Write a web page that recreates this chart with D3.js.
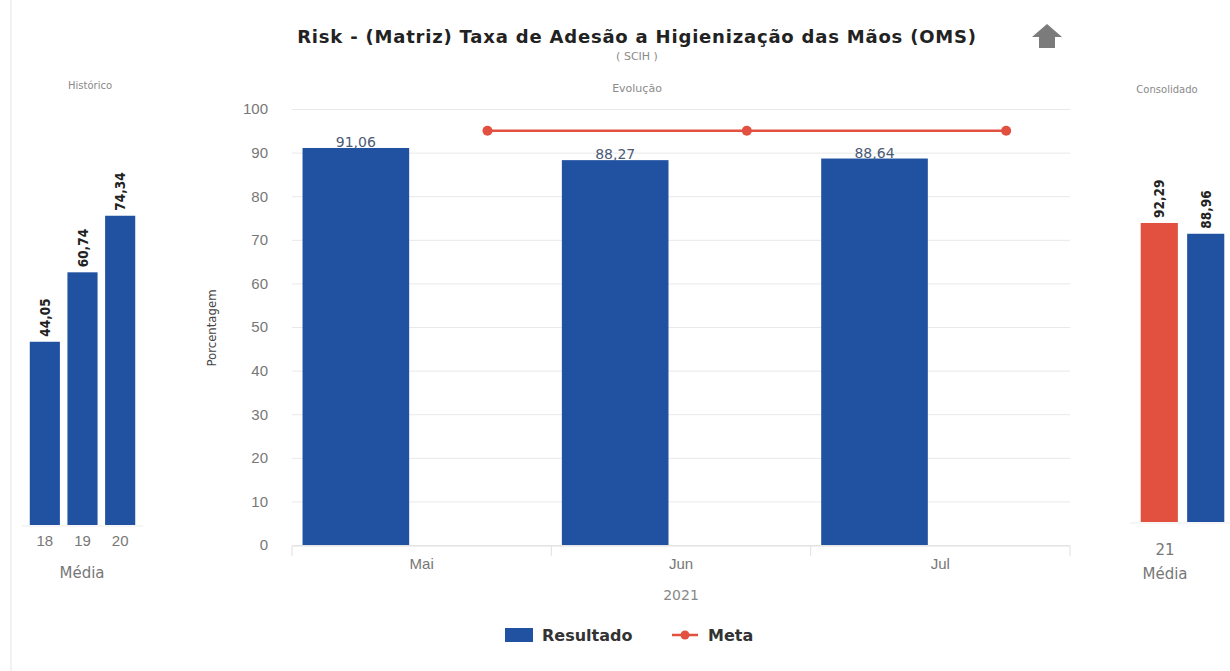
<!DOCTYPE html>
<html>
<head>
<meta charset="utf-8">
<script src="https://cdn.jsdelivr.net/npm/d3@7"></script>
<style>
  body { margin: 0; background: #fff; }
  svg { display: block; font-family: "DejaVu Sans", sans-serif; }
  .grid line { stroke: #e8e8e8; }
  .grid path { display: none; }
  .ytick text { fill: #777; font-size: 15px; }
  .ytick path, .ytick line { display: none; }
  .xlab text { fill: #777; font-size: 15px; }
  .xlab path, .xlab line { display: none; }
  .small { fill: #8a8a8a; font-size: 11px; }
  .rot { font-family: "DejaVu Sans Condensed", "DejaVu Sans", sans-serif; font-stretch: condensed; font-weight: bold; font-size: 13.5px; fill: #222; }
</style>
</head>
<body>
<svg id="chart" width="1230" height="671"></svg>
<script>
// main chart data
const months = ['Mai', 'Jun', 'Jul'];
const resultado = [91.06, 88.27, 88.64];
const meta = [95, 95, 95];
const seriesNames = ['Resultado', 'Meta'];

// side panels
const histYears = ['18', '19', '20'];
const histValues = [44.05, 60.74, 74.34];
const consYear = '21';
const consSeries = ['Meta', 'Resultado'];
const consValues = [92.29, 88.96];

const blue = '#2151a1';
const red = '#e2503f';

const br = d3.formatLocale({ decimal: ',', thousands: '.', grouping: [3], currency: ['R$', ''] });
const fmt = br.format('.2f');

const svg = d3.select('#chart');

// page border on the left
svg.append('line')
    .attr('x1', 11).attr('x2', 11).attr('y1', 0).attr('y2', 671)
    .attr('stroke', '#e4e4e4');

// title block
svg.append('text')
    .attr('x', 637).attr('y', 43)
    .attr('text-anchor', 'middle')
    .style('font-weight', 'bold').style('font-size', '18px').style('fill', '#222')
    .style('letter-spacing', '0.8px')
    .text('Risk - (Matriz) Taxa de Adesão a Higienização das Mãos (OMS)');

svg.append('text').attr('class', 'small')
    .attr('x', 637).attr('y', 60).attr('text-anchor', 'middle')
    .text('( SCIH )');

// gray arrow icon
svg.append('path')
    .attr('d', 'M1047,24 L1062,37 L1055,37 L1055,48 L1039,48 L1039,37 L1032,37 Z')
    .attr('fill', '#7b7b7b');

// ---------- main chart ----------
const x = d3.scaleBand().domain(months).range([292, 1070]).padding(0);
const xs = d3.scaleBand().domain(seriesNames).range([0, x.bandwidth()])
    .paddingInner(0.19).paddingOuter(0.08);
const y = d3.scaleLinear().domain([0, 100]).range([545, 109]);

svg.append('text').attr('class', 'small')
    .attr('x', 637).attr('y', 92).attr('text-anchor', 'middle')
    .text('Evolução');

svg.append('g').attr('class', 'grid')
    .attr('transform', 'translate(292,0)')
    .call(d3.axisLeft(y).ticks(10).tickSize(-778).tickFormat(''));

svg.append('g').attr('class', 'ytick')
    .attr('transform', 'translate(268,0)')
    .call(d3.axisLeft(y).ticks(10).tickSize(0).tickPadding(0));

svg.append('text')
    .attr('transform', 'translate(216,328) rotate(-90)')
    .attr('text-anchor', 'middle')
    .style('font-family', '"DejaVu Sans Condensed", "DejaVu Sans", sans-serif')
    .style('font-stretch', 'condensed')
    .style('font-size', '13px').style('fill', '#444')
    .text('Porcentagem');

// x axis baseline and band edge ticks
svg.append('line')
    .attr('x1', 292).attr('x2', 1070).attr('y1', 546).attr('y2', 546)
    .attr('stroke', '#e0e0e0');
svg.append('g').selectAll('line')
    .data(months.map(m => x(m)).concat([x.range()[1]]))
    .join('line')
    .attr('x1', d => d).attr('x2', d => d)
    .attr('y1', 546).attr('y2', 556)
    .attr('stroke', '#e0e0e0');

svg.append('g').attr('class', 'xlab')
    .attr('transform', 'translate(0,546)')
    .call(d3.axisBottom(x).tickSize(0).tickPadding(12));

svg.append('text')
    .attr('x', 681).attr('y', 600).attr('text-anchor', 'middle')
    .style('font-size', '14px').style('fill', '#888')
    .text('2021');

// bars
svg.append('g').selectAll('rect')
    .data(resultado)
    .join('rect')
    .attr('x', (d, i) => x(months[i]) + xs('Resultado'))
    .attr('y', d => y(d))
    .attr('width', xs.bandwidth())
    .attr('height', d => y(0) - y(d))
    .attr('fill', blue);

svg.append('g').selectAll('text')
    .data(resultado)
    .join('text')
    .attr('x', (d, i) => x(months[i]) + xs('Resultado') + xs.bandwidth() / 2)
    .attr('y', d => y(d) - 1)
    .attr('text-anchor', 'middle')
    .style('font-size', '14px').style('fill', '#4b5a76')
    .text(d => fmt(d));

// meta line
const metaX = (d, i) => x(months[i]) + xs('Meta') + xs.bandwidth() / 2;
svg.append('path')
    .datum(meta)
    .attr('d', d3.line().x(metaX).y(d => y(d)))
    .attr('fill', 'none')
    .attr('stroke', red)
    .attr('stroke-width', 2.5);

svg.append('g').selectAll('circle')
    .data(meta)
    .join('circle')
    .attr('cx', metaX)
    .attr('cy', d => y(d))
    .attr('r', 5)
    .attr('fill', red);

// legend
const legend = svg.append('g').attr('transform', 'translate(505,628)');
legend.append('rect').attr('width', 28).attr('height', 14).attr('fill', blue);
legend.append('text').attr('x', 37).attr('y', 13)
    .style('font-weight', 'bold').style('font-size', '16px').style('fill', '#333')
    .text('Resultado');
legend.append('line').attr('x1', 167).attr('x2', 193).attr('y1', 7).attr('y2', 7)
    .attr('stroke', red).attr('stroke-width', 2.5);
legend.append('circle').attr('cx', 180).attr('cy', 7).attr('r', 4.5).attr('fill', red);
legend.append('text').attr('x', 203).attr('y', 13)
    .style('font-weight', 'bold').style('font-size', '16px').style('fill', '#333')
    .text('Meta');

// ---------- left panel: Histórico ----------
const xh = d3.scaleBand().domain(histYears).range([26, 139])
    .paddingInner(0.2).paddingOuter(0.1);
const yh = d3.scaleLinear().domain([0, 100]).range([525, 109]);

svg.append('text').attr('class', 'small')
    .attr('x', 90).attr('y', 89).attr('text-anchor', 'middle')
    .style('font-size', '10px')
    .text('Histórico');

svg.append('line')
    .attr('x1', 22).attr('x2', 143).attr('y1', 526).attr('y2', 526)
    .attr('stroke', '#ececec');

svg.append('g').selectAll('rect')
    .data(histValues)
    .join('rect')
    .attr('x', (d, i) => xh(histYears[i]))
    .attr('y', d => yh(d))
    .attr('width', xh.bandwidth())
    .attr('height', d => yh(0) - yh(d))
    .attr('fill', blue);

svg.append('g').selectAll('text')
    .data(histValues)
    .join('text')
    .attr('class', 'rot')
    .attr('transform', (d, i) => `translate(${xh(histYears[i]) + xh.bandwidth() / 2 + 5},${yh(d) - 5}) rotate(-90)`)
    .text(d => fmt(d));

svg.append('g').attr('class', 'xlab')
    .attr('transform', 'translate(0,526)')
    .call(d3.axisBottom(xh).tickSize(0).tickPadding(9));

svg.append('text')
    .attr('x', 82).attr('y', 578).attr('text-anchor', 'middle')
    .style('font-size', '15px').style('fill', '#777')
    .text('Média');

// ---------- right panel: Consolidado ----------
const xc = d3.scaleBand().domain(consSeries).range([1137, 1228])
    .paddingInner(0.2).paddingOuter(0.08);
const yc = d3.scaleLinear().domain([0, 100]).range([522, 198]);

svg.append('text').attr('class', 'small')
    .attr('x', 1167).attr('y', 93).attr('text-anchor', 'middle')
    .style('font-size', '10px')
    .text('Consolidado');

svg.append('line')
    .attr('x1', 1130).attr('x2', 1230).attr('y1', 523).attr('y2', 523)
    .attr('stroke', '#ececec');

svg.append('g').selectAll('rect')
    .data(consValues)
    .join('rect')
    .attr('x', (d, i) => xc(consSeries[i]))
    .attr('y', d => yc(d))
    .attr('width', xc.bandwidth())
    .attr('height', d => yc(0) - yc(d))
    .attr('fill', (d, i) => consSeries[i] === 'Meta' ? red : blue);

svg.append('g').selectAll('text')
    .data(consValues)
    .join('text')
    .attr('class', 'rot')
    .attr('transform', (d, i) => `translate(${xc(consSeries[i]) + xc.bandwidth() / 2 + 5},${yc(d) - 5}) rotate(-90)`)
    .text(d => fmt(d));

svg.append('text')
    .attr('x', 1165).attr('y', 555).attr('text-anchor', 'middle')
    .style('font-size', '15px').style('fill', '#777')
    .text(consYear);

svg.append('text')
    .attr('x', 1165).attr('y', 579).attr('text-anchor', 'middle')
    .style('font-size', '15px').style('fill', '#777')
    .text('Média');
</script>
</body>
</html>
